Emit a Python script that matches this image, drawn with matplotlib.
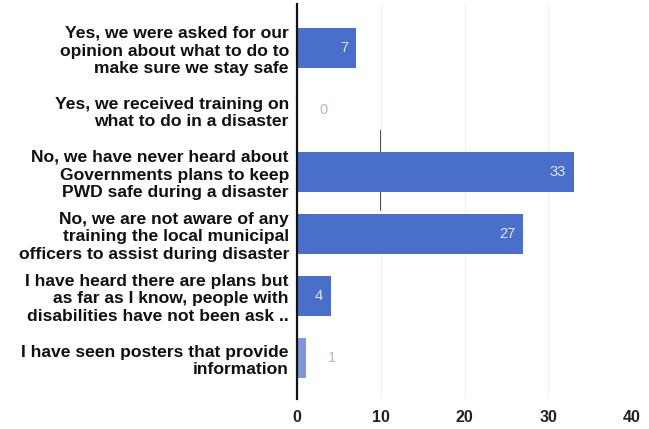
import numpy as np
import matplotlib.pyplot as plt

plt.rcParams['font.family'] = ['Liberation Sans', 'DejaVu Sans']

answers = [
    'Yes, we were asked for our\nopinion about what to do to\nmake sure we stay safe',
    'Yes, we received training on\nwhat to do in a disaster',
    'No, we have never heard about\nGovernments plans to keep\nPWD safe during a disaster',
    'No, we are not aware of any\ntraining the local municipal\nofficers to assist during disaster',
    'I have heard there are plans but\nas far as I know, people with\ndisabilities have not been ask ..',
    'I have seen posters that provide\ninformation',
]
counts = [7, 0, 33, 27, 4, 1]
xticks = [0, 10, 20, 30, 40]

fig = plt.figure(figsize=(6.49, 4.29), dpi=100)
ax = fig.add_axes([0.458, 0.07, 0.516, 0.92])

y = np.arange(len(counts))
colors = ['#4a6fcb'] * 5 + ['#8096d8']
ax.barh(y, counts, height=0.65, color=colors, zorder=2)

for yi, c in zip(y, counts):
    if c >= 4:
        ax.text(c - 0.9, yi, str(c), ha='right', va='center',
                color='#dfe6f7', fontsize=10.5, zorder=3)
    else:
        ax.text(c + 3.1, yi, str(c), ha='center', va='center',
                color='#a9b6e6', fontsize=10.5, zorder=3)

ax.set_xlim(0, 40)
ax.set_ylim(5.66, -0.71)
ax.set_xticks(xticks)
ax.set_xticklabels([str(t) for t in xticks], fontsize=11.5, fontweight='bold',
                   color='#222222')
ax.set_yticks(y)
ax.set_yticklabels(answers, fontsize=12.6, fontweight='bold', color='#111111',
                   linespacing=1.22)
ax.tick_params(axis='both', length=0)
ax.tick_params(axis='y', pad=6)
ax.tick_params(axis='x', pad=8)

for s in ['top', 'right', 'bottom']:
    ax.spines[s].set_visible(False)
ax.spines['left'].set_linewidth(1.6)
ax.spines['left'].set_color('#111111')

ax.grid(axis='x', color='#f0f0f0', linewidth=0.8, zorder=0)
# dark scan mark near the 10 gridline
ax.axvline(10, ymin=0.48, ymax=0.68, color='#222222', linewidth=1.2, zorder=1)

fig.savefig('out.png', dpi=100)
